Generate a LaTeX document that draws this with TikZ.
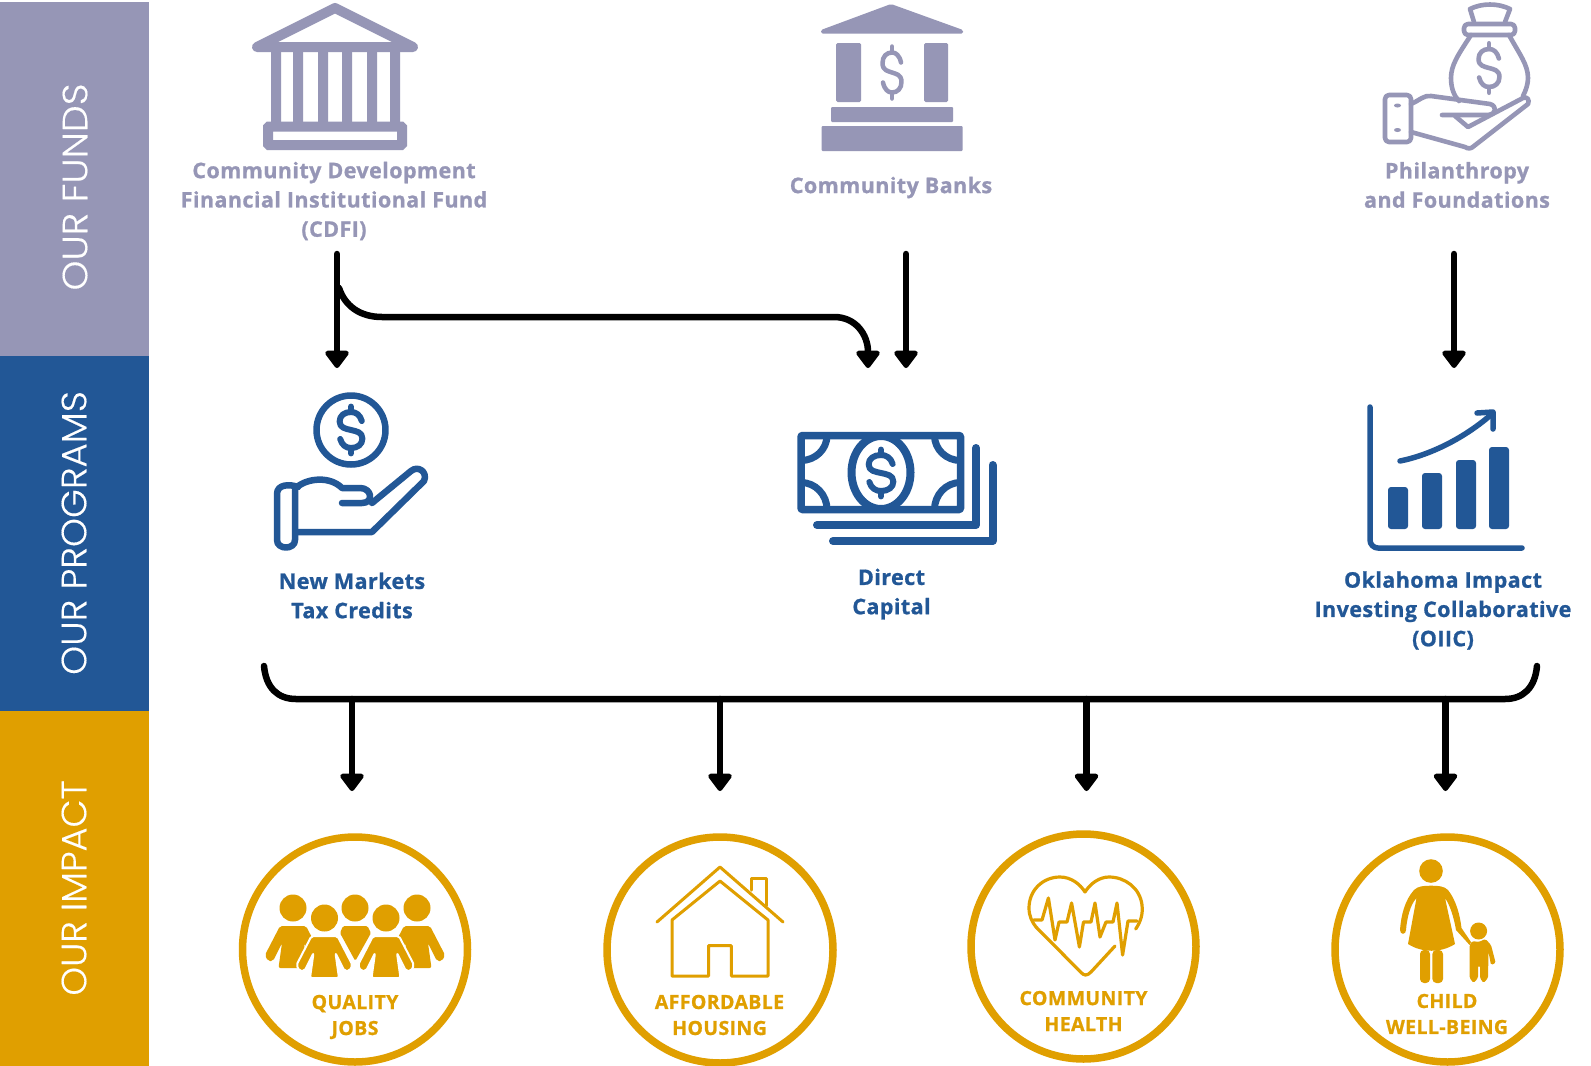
\documentclass[tikz,border=0pt]{standalone}
\usepackage{fontspec}
\usepackage{graphicx}
\usetikzlibrary{arrows.meta}
\newfontfamily\lblfont{Open Sans}[UprightFont=*,BoldFont=* Bold,BoldFeatures={FakeBold=0.9,LetterSpace=2}]
\newfontfamily\sidefont{Poppins}[UprightFont=* Light,UprightFeatures={FakeBold=0.3}]
\definecolor{cpurple}{HTML}{9696B6}
\definecolor{cblue}{HTML}{225796}
\definecolor{cgold}{HTML}{E09F00}
\newcommand{\dollarat}[6]{%
  \begin{scope}[shift={(#1,#2)},x=#3pt,y=-#4pt,draw=#6,line width=#5pt,line cap=round,line join=round]
    \draw (0.9,-0.5) .. controls (0.75,-0.85) and (0.4,-1) .. (0,-1)
      .. controls (-0.55,-1) and (-0.95,-0.8) .. (-0.95,-0.47)
      .. controls (-0.95,-0.1) and (-0.4,-0.07) .. (0,0)
      .. controls (0.4,0.07) and (0.95,0.1) .. (0.95,0.47)
      .. controls (0.95,0.8) and (0.55,1) .. (0,1)
      .. controls (-0.4,1) and (-0.75,0.85) .. (-0.9,0.5);
    \draw (0,-1)--(0,-1.3) (0,1)--(0,1.3);
  \end{scope}}
\tikzset{
  band/.style={fill=#1,draw=none},
  sidelabel/.style={text=white,rotate=90,font=\sidefont\fontsize{35}{38}\selectfont,anchor=center},
  fundlabel/.style={text=cpurple,align=center,font=\lblfont\bfseries\fontsize{21.5}{29.3}\selectfont,anchor=center},
  proglabel/.style={text=cblue,align=center,font=\lblfont\bfseries\fontsize{21.5}{29.3}\selectfont,anchor=center},
  impactlabel/.style={text=cgold,align=center,font=\lblfont\bfseries\fontsize{19.5}{26}\selectfont,anchor=center},
  flow/.style={draw=black,line width=6.5pt,line cap=round,-{Triangle[length=19pt,width=27pt,round]}},
  flowline/.style={draw=black,line width=6.5pt,line cap=round},
  ring/.style={draw=cgold,line width=7.5pt,fill=none},
  person/.pic={
    \fill[pic actions] (0,0) circle (13.5);
    \path[pic actions,rounded corners=2pt,line join=round]
      (-13,18)--(13,18)--(28,47)--(25,53)--(20,53)--(11,35)--(14.5,60)--(-14.5,60)--(-11,35)--(-20,53)--(-25,53)--(-28,47)--cycle;
  },
}
\begin{document}
\begin{tikzpicture}[x=1pt,y=-1pt]
\useasboundingbox (0,0) rectangle (1591,1066);
\fill[white] (0,0) rectangle (1591,1066);
% side bands
\fill[band=cpurple] (0,2) rectangle (149,356);
\fill[band=cblue] (0,356) rectangle (149,711);
\fill[band=cgold] (0,711) rectangle (149,1066);
\node[sidelabel] (sfunds) at (75,187) {\scalebox{1.09}[1]{OUR FUNDS}};
\node[sidelabel] (sprog) at (74,533) {\scalebox{1.055}[1]{OUR PROGRAMS}};
\node[sidelabel] (simpact) at (74,888) {\scalebox{1.045}[1]{OUR IMPACT}};

% ---- temple
\begin{scope}
\draw[cpurple,line width=10pt,line join=round,fill=none] (335,8)--(257,47)--(413,47)--cycle;
\fill[cpurple] (271,50) rectangle (281,123) (293,50) rectangle (303,123) (318,50) rectangle (328,123)
  (342,50) rectangle (352,123) (367,50) rectangle (377,123) (390,50) rectangle (400,123);
\draw[cpurple,line width=10pt,rounded corners=1pt] (268,126.5) rectangle (402,145);
\end{scope}
% ---- bank
\begin{scope}
\fill[cpurple,rounded corners=1.5pt] (891,4)--(821,30)--(821,33.5)--(963,33.5)--(963,30)--cycle;
\fill[cpurple,rounded corners=1.5pt] (836,43) rectangle (861,102) (924,43) rectangle (948,102);
\fill[cpurple,rounded corners=1pt] (831,107) rectangle (953,122) (821.5,126) rectangle (962.5,151);
\dollarat{892}{72.5}{10}{20}{4.5}{cpurple}
\end{scope}
% ---- bag and hand
\begin{scope}[cpurple,line width=4.6pt,line join=round,line cap=round]
\draw (1474,22) -- (1470,9) .. controls (1482,3) and (1498,3) .. (1510,9) -- (1505,22);
\draw[rounded corners=4pt] (1464,24) rectangle (1515,35);
\draw (1471,35) .. controls (1458,55) and (1451,65) .. (1451,78) .. controls (1451,88) and (1454,96) .. (1459,101);
\draw (1509,35) .. controls (1520,55) and (1528,65) .. (1528,78) .. controls (1528,84) and (1526,90) .. (1523,96);
\draw[rounded corners=4pt] (1385,95) rectangle (1411,142);
\fill (1397.5,105.5) ellipse (3.5 and 2) (1397.5,130) ellipse (3.5 and 2);
\draw (1411,104) .. controls (1420,100) and (1424,95) .. (1431,96) -- (1490,104)
  .. controls (1497,106) and (1497,114) .. (1488,115) -- (1442,115);
\draw (1455,116) -- (1468,127) -- (1523,98) .. controls (1527,96) and (1530,100) .. (1528,104)
  -- (1474,146) .. controls (1471,149) and (1468,149) .. (1465,147) -- (1411,132);
\dollarat{1489}{68}{11}{19}{4.6}{cpurple}
\end{scope}

% ---- coin hand
\begin{scope}[cblue,line width=6.5pt,line join=round,line cap=round]
\draw (351,430) circle (34.5);
\dollarat{351}{430}{12}{18}{6}{cblue}
\draw (298,487) .. controls (290,484) and (277,484) .. (277,494) -- (277,540)
  .. controls (277,550) and (295,550) .. (295,540) -- (295,490);
\draw (297,487) .. controls (308,478) and (330,476) .. (342,488) -- (360,488)
  .. controls (372,488) and (374,503) .. (362,503) -- (342,503);
\draw (372,503) -- (411,471) .. controls (418,465) and (428,472) .. (424,481) -- (372,532) -- (297,532);
\end{scope}
% ---- money
\begin{scope}[cblue,line join=round,line cap=round]
\draw[line width=7.5pt,rounded corners=1pt] (801,435.5) rectangle (960.5,509.5);
\begin{scope}
\clip (801,435.5) rectangle (960.5,509.5);
\draw[line width=7pt] (801,435.5) ellipse (26 and 25);
\draw[line width=7pt] (960.5,435.5) ellipse (26 and 25);
\draw[line width=7pt] (801,509.5) ellipse (26 and 27);
\draw[line width=7pt] (960.5,509.5) ellipse (26 and 27);
\draw[line width=8pt] (881,472.5) ellipse (29.5 and 36.5);
\end{scope}
\dollarat{881}{473}{13}{18}{6}{cblue}
\draw[line width=8pt] (817,525)--(976,525)--(976,448);
\draw[line width=8pt] (833,541)--(992.5,541)--(992.5,465);
\end{scope}
% ---- chart
\begin{scope}[cblue,line cap=round,line join=round]
\draw[line width=5.5pt,rounded corners=8pt] (1370,407)--(1370,548)--(1522,548);
\fill[rounded corners=3pt] (1388,487) rectangle (1408,529) (1422,473) rectangle (1442,529)
  (1456,460) rectangle (1476,529) (1489,447) rectangle (1509,529);
\draw[line width=5.5pt] (1400,461) .. controls (1430,455) and (1465,438) .. (1493,413);
\draw[line width=5.5pt] (1477,413)--(1493,412)--(1493,429);
\end{scope}

% ---- labels
\node[fundlabel] (cdfi) at (334,201) {Community Development\\Financial Institutional Fund\\(CDFI)};
\node[fundlabel] (banks) at (891,187.5) {Community Banks};
\node[fundlabel] (phil) at (1457,185) {Philanthropy\\and Foundations};
\node[proglabel] (nmtc) at (352,595.5) {New Markets\\Tax Credits};
\node[proglabel] (direct) at (891.5,594) {Direct\\Capital};
\node[proglabel] (oiic) at (1443,610.5) {Oklahoma Impact\\Investing Collaborative\\(OIIC)};

% ---- connectors
\coordinate (a1s) at (337,254); \coordinate (a1e) at (337,368);
\coordinate (a2s) at (906,254); \coordinate (a2e) at (906,368);
\coordinate (a3s) at (1454,254); \coordinate (a3e) at (1454,368);
\coordinate (cs) at (339,288); \coordinate (c1) at (382,317); \coordinate (c2) at (834,317); \coordinate (ce) at (868,368);
\draw[flow] (a1s) -- (a1e);
\draw[flow] (a2s) -- (a2e);
\draw[flow] (a3s) -- (a3e);
\draw[flow] (cs) .. controls (345,306) and (360,317) .. (c1) -- (c2) .. controls (856,317) and (868,335) .. (ce);
\coordinate (bl) at (264,666); \coordinate (b1) at (296,699); \coordinate (b2) at (1505,699); \coordinate (br) at (1537,666);
\draw[flowline] (bl) .. controls (266,688) and (278,699) .. (b1) -- (b2) .. controls (1523,699) and (1535,688) .. (br);
\coordinate (d1) at (352,699); \coordinate (d2) at (720,699); \coordinate (d3) at (1086.5,699); \coordinate (d4) at (1445.5,699);
\coordinate (e1) at (352,791); \coordinate (e2) at (720,791); \coordinate (e3) at (1086.5,791); \coordinate (e4) at (1445.5,791);
\draw[flow] (d1) -- (e1);
\draw[flow] (d2) -- (e2);
\draw[flow] (d3) -- (e3);
\draw[flow] (d4) -- (e4);

% ---- circles
\draw[ring] (355,949.5) circle (112.5);
\draw[ring] (720,950) circle (113);
\draw[ring] (1083.5,946.5) circle (112.5);
\draw[ring] (1447.5,949.5) circle (112.5);

% ---- people
\pic[fill=cgold] at (293,908) {person};
\pic[fill=cgold] at (417,908) {person};
\fill[cgold] (355,908) circle (13.5);
\fill[cgold,rounded corners=1.5pt] (343,926)--(367.5,926)--(371,933)--(355.3,961)--(340,933)--cycle;
\pic[fill=cgold,draw=white,line width=2pt] at (324.5,918) {person};
\pic[fill=cgold,draw=white,line width=2pt] at (386,918) {person};
\fill[cgold] (324.5,918) circle (13.5) (386,918) circle (13.5);

% ---- house
\begin{scope}[cgold,line width=3pt,line join=round,line cap=round]
\draw (657,922)--(720,867)--(783,922);
\draw (672,976)--(672,920)--(720,881)--(768,920)--(768,976)--(731.4,976)--(731.4,945.7)--(708.5,945.7)--(708.5,976)--cycle;
\draw (751,890)--(751,878)--(766,878)--(766,905.5);
\end{scope}

% ---- heart
\begin{scope}[cgold,line width=3.2pt,line join=round,line cap=round]
\draw (1135.7,929) .. controls (1141,921) and (1143,914) .. (1142,905)
  .. controls (1140,888) and (1125,877) .. (1109,877)
  .. controls (1099,877) and (1090,884) .. (1085,892)
  .. controls (1080,884) and (1071,877) .. (1060,877)
  .. controls (1043,877) and (1029,890) .. (1029,908)
  .. controls (1029,916) and (1032,922) .. (1036,927)
  -- (1080.6,972) .. controls (1084,976) and (1087,976) .. (1091,972) -- (1115,946);
\draw (1033.7,920)--(1042,920)--(1048.4,898)--(1055,940)--(1059,922)--(1067,922)--(1071.6,903)--(1079.4,947)--(1083.5,922)--(1091,922)--(1095,903)--(1100,937)--(1106,922)--(1113,922)--(1117,903)--(1122.6,955)--(1128,921)--(1137,921);
\end{scope}

% ---- mother and child
\begin{scope}[cgold]
\fill (1431,871) ellipse (11.8 and 11.8);
\fill[line join=round] (1431,885.7) .. controls (1424,885.7) and (1418,886) .. (1414,890)
  .. controls (1405,900) and (1401,915) .. (1400,930)
  .. controls (1400,935) and (1406,935) .. (1406,930)
  .. controls (1407,918) and (1410,905) .. (1416.5,898)
  -- (1408,944) .. controls (1422,953) and (1441,953) .. (1455,944)
  -- (1445,898) .. controls (1450,905) and (1454,918) .. (1456,930)
  -- (1469.6,945) -- (1471,942) -- (1461.5,928)
  .. controls (1460,915) and (1456,900) .. (1448,890)
  .. controls (1444,886) and (1438,885.7) .. (1431,885.7) -- cycle;
\fill[rounded corners=4pt] (1420,950) -- (1430,950) -- (1430,983) -- (1420,983) -- cycle;
\fill[rounded corners=4pt] (1432.4,950) -- (1443,950) -- (1443,983) -- (1432.4,983) -- cycle;
\fill (1478.6,931) ellipse (8.5 and 8.5);
\fill[line join=round,rounded corners=1.5pt] (1469.6,945) -- (1472.4,941) -- (1478.6,942) -- (1485.5,939)
  -- (1491,945) -- (1495.7,963) -- (1491,965) -- (1488.5,952) -- (1488,978) -- (1483.5,983) -- (1480,978)
  -- (1480,965.7) -- (1478,965.7) -- (1478,978) -- (1473.6,983) -- (1469.6,978) -- cycle;
\end{scope}

% ---- impact labels
\node[impactlabel] (jobs) at (355,1017) {QUALITY\\JOBS};
\node[impactlabel] (housing) at (719.5,1015) {AFFORDABLE\\HOUSING};
\node[impactlabel] (health) at (1083.5,1011) {COMMUNITY\\HEALTH};
\node[impactlabel] (child) at (1447,1014) {CHILD\\WELL-BEING};
\end{tikzpicture}
\end{document}
